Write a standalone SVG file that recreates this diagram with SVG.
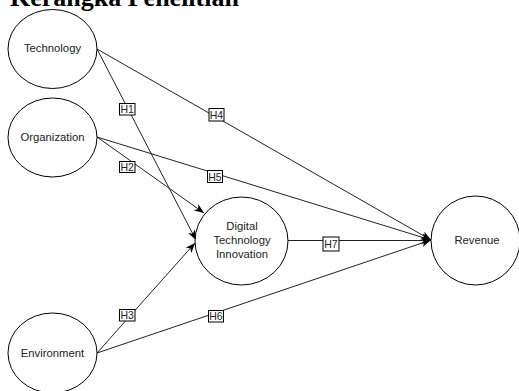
<svg xmlns="http://www.w3.org/2000/svg" width="519" height="391" viewBox="0 0 519 391">
<style>
.node{fill:#fff;stroke:#000;stroke-width:1}
.nt{font-family:"Liberation Sans",Arial,sans-serif;font-size:11.3px;fill:#222;text-anchor:middle;dominant-baseline:central}
.edge{stroke:#222;stroke-width:1;fill:none;marker-end:url(#arr)}
.lb{fill:#fff;stroke:#000;stroke-width:1}
.lt{font-family:"Liberation Sans",Arial,sans-serif;font-size:10.5px;fill:#222;text-anchor:middle;dominant-baseline:central}
.title{font-family:"Liberation Serif","Times New Roman",serif;font-weight:bold;font-size:26px;fill:#000}
</style>
<defs>
<marker id="arr" viewBox="0 0 10 8" refX="10" refY="4" markerWidth="10" markerHeight="8" markerUnits="userSpaceOnUse" orient="auto">
<path d="M0,0 L10,4 L0,8 L3,4 z" fill="#000"/>
</marker>
</defs>
<rect width="519" height="391" fill="#fff"/>
<text class="title" x="10" y="6">Kerangka Penelitian</text>
<g id="connectors">
<line class="edge" x1="97" y1="49" x2="196" y2="240"/>
<line class="edge" x1="97" y1="137" x2="204" y2="213"/>
<line class="edge" x1="97" y1="353" x2="195" y2="243"/>
<line class="edge" x1="97" y1="49" x2="431" y2="240"/>
<line class="edge" x1="97" y1="137" x2="431" y2="240"/>
<line class="edge" x1="97" y1="353" x2="431" y2="240"/>
<line class="edge" x1="288" y1="240.5" x2="431" y2="240.5"/>
</g>
<g id="labels">
<g id="lH1"><rect class="lb" x="119.5" y="103.5" width="15.5" height="11.5"/><text class="lt" x="127.2" y="109.3">H1</text></g>
<g id="lH2"><rect class="lb" x="119.5" y="161.5" width="15.5" height="11"/><text class="lt" x="127.2" y="167">H2</text></g>
<g id="lH3"><rect class="lb" x="119.5" y="309.5" width="15.5" height="11.5"/><text class="lt" x="127.2" y="315.2">H3</text></g>
<g id="lH4"><rect class="lb" x="209" y="108.5" width="15" height="12.5"/><text class="lt" x="216.5" y="114.8">H4</text></g>
<g id="lH5"><rect class="lb" x="207.5" y="170.5" width="15" height="12"/><text class="lt" x="215" y="176.5">H5</text></g>
<g id="lH6"><rect class="lb" x="208.5" y="310.5" width="15" height="11.5"/><text class="lt" x="216" y="316.2">H6</text></g>
<g id="lH7"><rect class="lb" x="323" y="237" width="16" height="14"/><text class="lt" x="331" y="244">H7</text></g>
</g>
<g id="technology"><ellipse class="node" cx="52.5" cy="49" rx="44.5" ry="39.5"/><text class="nt" x="52.5" y="48">Technology</text></g>
<g id="organization"><ellipse class="node" cx="52.5" cy="137.5" rx="44.5" ry="39.5"/><text class="nt" x="52.5" y="137">Organization</text></g>
<g id="environment"><ellipse class="node" cx="52.5" cy="353" rx="44.5" ry="40"/><text class="nt" x="52.5" y="353">Environment</text></g>
<g id="dti"><ellipse class="node" cx="241.5" cy="241" rx="46.5" ry="44"/><text class="nt" x="242" y="226">Digital</text><text class="nt" x="242" y="240">Technology</text><text class="nt" x="242" y="254">Innovation</text></g>
<g id="revenue"><ellipse class="node" cx="475.5" cy="240.5" rx="44.5" ry="44.5"/><text class="nt" x="477" y="240">Revenue</text></g>
</svg>
